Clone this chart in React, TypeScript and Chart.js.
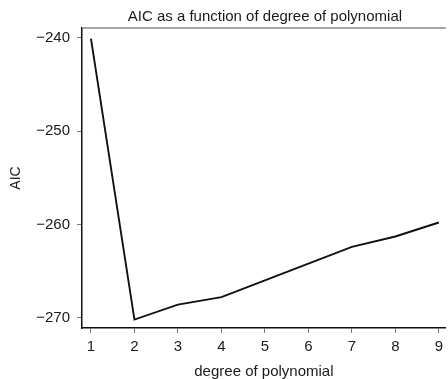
import React, { useEffect, useRef } from "react";
import { Chart, registerables } from "chart.js";

Chart.register(...registerables);

const degrees = [1, 2, 3, 4, 5, 6, 7, 8, 9];
const aicValues = [-240.1, -270.2, -268.6, -267.8, -266.0, -264.2, -262.4, -261.3, -259.8];
const yTicks = [-240, -250, -260, -270];
const titleText = "AIC as a function of degree of polynomial";
const xTitle = "degree of polynomial";
const yTitle = "AIC";

const FONT = "'Liberation Sans', Arial, Helvetica, sans-serif";

const frameAndTitle = {
  id: "frameAndTitle",
  afterDraw(chart: any) {
    const { ctx, chartArea } = chart;
    ctx.save();
    ctx.strokeStyle = "#888888";
    ctx.lineWidth = 1.5;
    ctx.beginPath();
    ctx.moveTo(chartArea.left, chartArea.top);
    ctx.lineTo(chartArea.right, chartArea.top);
    ctx.stroke();
    ctx.fillStyle = "#1a1a1a";
    ctx.font = `15px ${FONT}`;
    ctx.textAlign = "center";
    ctx.textBaseline = "alphabetic";
    ctx.fillText(titleText, (chartArea.left + chartArea.right) / 2 + 1, 20.5);
    ctx.restore();
  },
};

export default function App() {
  const ref = useRef<HTMLCanvasElement>(null);
  useEffect(() => {
    document.body.style.margin = "0";
    const chart = new Chart(ref.current!, {
      type: "line",
      data: {
        datasets: [
          {
            data: degrees.map((d, i) => ({ x: d, y: aicValues[i] })),
            borderColor: "#111111",
            borderWidth: 1.9,
            pointRadius: 0,
            tension: 0,
            fill: false,
          },
        ],
      },
      options: {
        animation: false,
        responsive: false,
        maintainAspectRatio: false,
        layout: { padding: { top: 28, left: 0, right: 0, bottom: 0 } },
        plugins: {
          legend: { display: false },
          tooltip: { enabled: false },
          title: { display: false },
        },
        scales: {
          x: {
            type: "linear",
            min: 0.794,
            max: 9.16,
            afterFit(scale: any) {
              scale.height = 51;
            },
            afterBuildTicks(scale: any) {
              scale.ticks = degrees.map((v) => ({ value: v }));
            },
            ticks: {
              color: "#1a1a1a",
              font: { family: FONT, size: 15 },
              padding: 5,
              maxRotation: 0,
              callback: (v: any) => String(v),
            },
            grid: {
              drawOnChartArea: false,
              drawTicks: true,
              tickLength: 5,
              tickColor: "#777",
            },
            border: { display: true, color: "#111", width: 1.5 },
            title: {
              display: true,
              text: xTitle,
              color: "#1a1a1a",
              font: { family: FONT, size: 15 },
              padding: { top: 2, bottom: -2 },
            },
          },
          y: {
            type: "linear",
            min: -271.1,
            max: -238.96,
            afterFit(scale: any) {
              scale.width = 82;
            },
            afterBuildTicks(scale: any) {
              scale.ticks = yTicks.map((v) => ({ value: v }));
            },
            ticks: {
              color: "#1a1a1a",
              font: { family: FONT, size: 15 },
              padding: 7,
              callback: (v: any) => String(v).replace("-", "\u2212"),
            },
            grid: {
              drawOnChartArea: false,
              drawTicks: true,
              tickLength: 5,
              tickColor: "#777",
            },
            border: { display: true, color: "#111", width: 1.5 },
            title: {
              display: true,
              text: yTitle,
              color: "#1a1a1a",
              font: { family: FONT, size: 14 },
              padding: { top: 7.6, bottom: 0 },
            },
          },
        },
      },
      plugins: [frameAndTitle],
    });
    return () => chart.destroy();
  }, []);
  return (
    <div style={{ position: "absolute", left: 0, top: 0, width: 448, height: 379 }}>
      <canvas ref={ref} width={448} height={379} />
    </div>
  );
}
